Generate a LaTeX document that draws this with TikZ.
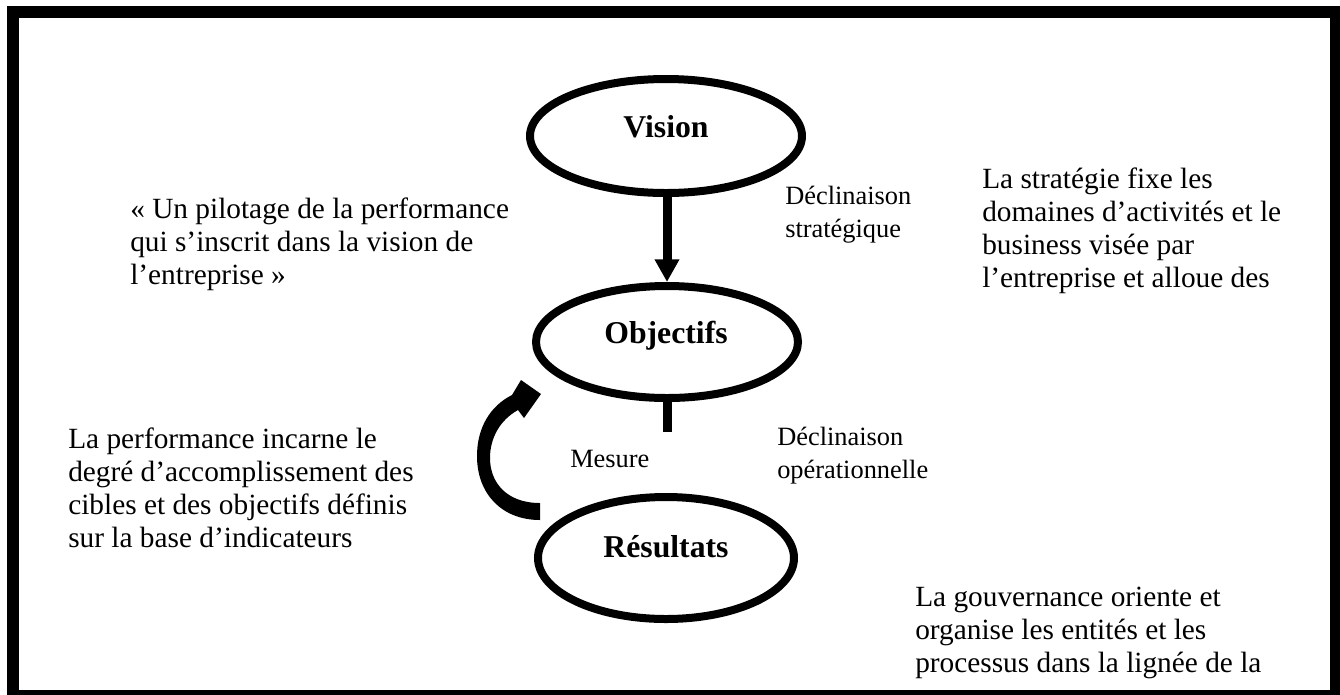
\documentclass[tikz,border=0pt]{standalone}
\usepackage{fontspec}
\setmainfont{Liberation Serif}
\usetikzlibrary{shapes.geometric,arrows.meta}

% stacked lines, baseline of the first line is the node's baseline
\newcommand{\textlines}[1]{\begin{tabular}[t]{@{}l@{}}#1\end{tabular}}

\begin{document}
\begin{tikzpicture}[x=0.75pt,y=-0.75pt,
  frame/.style={line width=9pt},
  bubble/.style={ellipse, draw, line width=6pt, inner sep=0pt},
  heading/.style={anchor=base, inner sep=0pt, font=\fontsize{23.8}{27}\selectfont\bfseries},
  tag/.style={anchor=base west, inner sep=0pt, font=\fontsize{19.8}{24.75}\selectfont},
  prose/.style={anchor=base west, inner sep=0pt, font=\fontsize{22}{24.75}\selectfont},
  flow/.style={line width=6.75pt},
]
\useasboundingbox (0,0) rectangle (1340,694);

% outer frame
\draw[frame] (13,12) rectangle (1336,696);

% the three stages
\node[bubble, minimum width=204pt, minimum height=85.5pt] (vision) at (666,136) {};
\node[bubble, minimum width=196.5pt, minimum height=84pt] (obj) at (667,342) {};
\node[bubble, minimum width=192pt, minimum height=91.5pt] (res) at (666,558) {};

\node[heading] (visiontxt) at (666,137) {Vision};
\node[heading] (objtxt) at (666,343) {Objectifs};
\node[heading] (restxt) at (666,557) {Résultats};

% strategic breakdown arrow and operational stub
\draw[flow, -{Triangle[length=17pt,width=17.5pt]}] (obj.north |- vision.south) -- (obj.north);
\coordinate (stubend) at (667,432);
\draw[flow] (obj.south) -- (stubend);

% curved feedback arrow from results back to objectives
\fill (540,503)
  .. controls (506,503) and (490,482) .. (490,458)
  .. controls (490,438) and (500,420) .. (518,410)
  -- (524,418) -- (541,394) -- (521,380)
  -- (512,395)
  .. controls (490,406) and (477,428) .. (477,456)
  .. controls (477,494) and (502,520) .. (540,520)
  -- cycle;

% labels
\node[tag] (declstrat) at (785,204) {\textlines{Déclinaison\\stratégique}};
\node[tag] (declop) at (777,445) {\textlines{Déclinaison\\opérationnelle}};
\node[tag] (mesure) at (570,467) {Mesure};

% commentary
\node[prose] (quote) at (130,218) {\textlines{« Un pilotage de la performance\\qui s’inscrit dans la vision de\\l’entreprise »}};
\node[prose] (strategie) at (982,188) {\textlines{La stratégie fixe les\\domaines d’activités et le\\business visée par\\l’entreprise et alloue des}};
\node[prose] (performance) at (68,448) {\textlines{La performance incarne le\\degré d’accomplissement des\\cibles et des objectifs définis\\sur la base d’indicateurs}};
\node[prose] (gouvernance) at (915,606) {\textlines{La gouvernance oriente et\\organise les entités et les\\processus dans la lignée de la}};
\end{tikzpicture}
\end{document}
